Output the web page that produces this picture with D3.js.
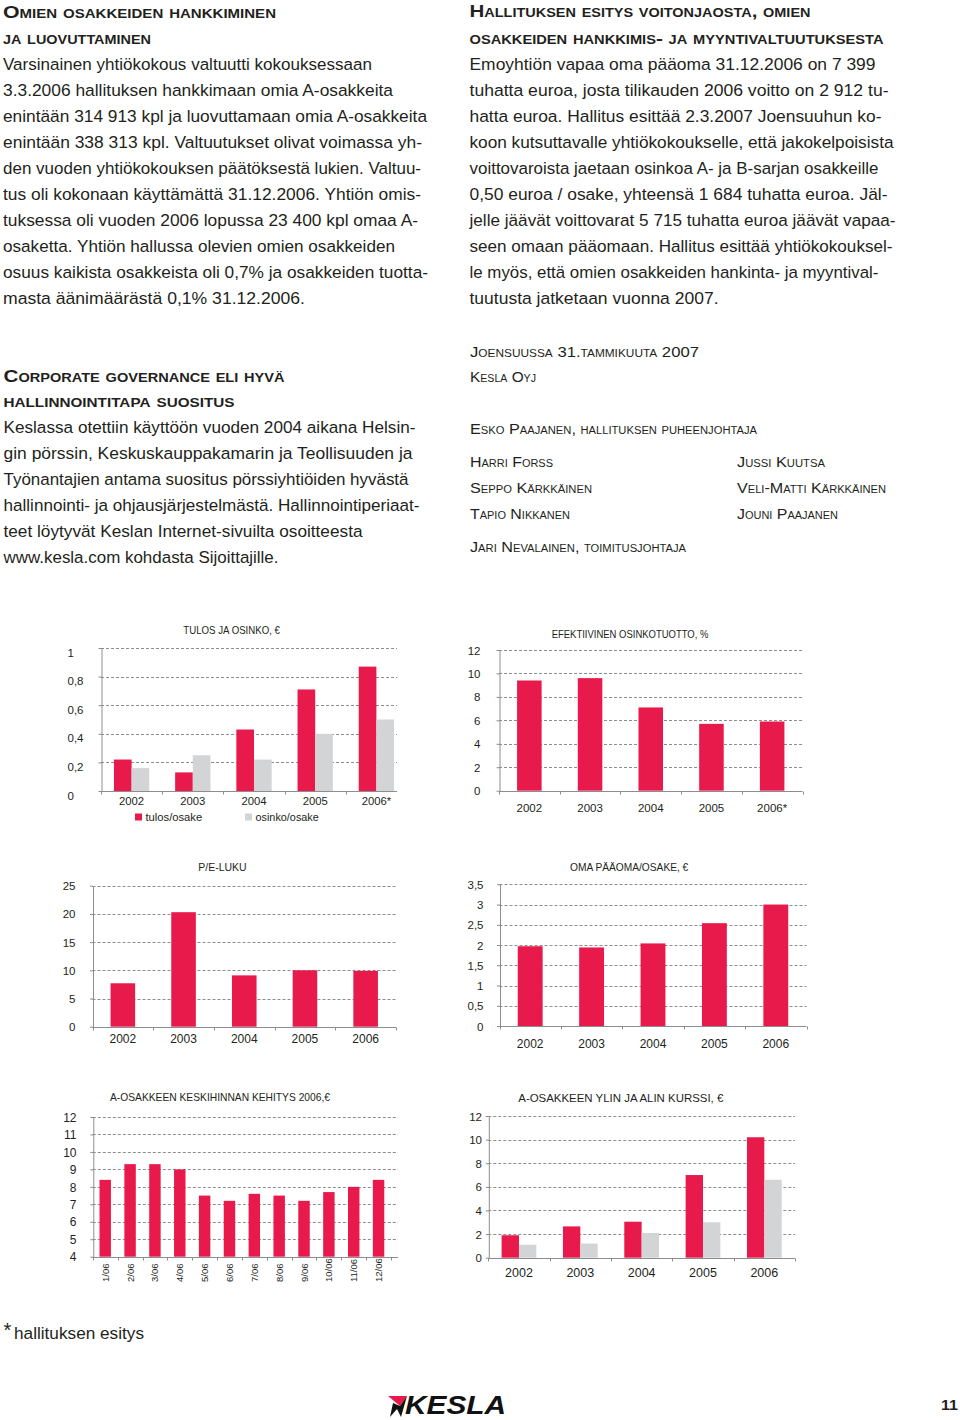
<!DOCTYPE html>
<html><head><meta charset="utf-8">
<script src="https://cdn.jsdelivr.net/npm/d3@7"></script>
<style>
html,body{margin:0;padding:0;background:#fff;}
svg{display:block;font-family:"Liberation Sans",Arial,sans-serif;}
</style></head><body>
<svg id="page" width="960" height="1420"></svg>
<script>
// ---------------- data ----------------
const years = ["2002", "2003", "2004", "2005", "2006"];
const yearsStar = ["2002", "2003", "2004", "2005", "2006*"];
const tulosOsake = [0.22, 0.13, 0.43, 0.71, 0.87];
const osinkoOsake = [0.16, 0.25, 0.22, 0.40, 0.50];
const osinkotuotto = [9.4, 9.6, 7.1, 5.7, 5.9];
const peLuku = [7.7, 20.3, 9.1, 10.0, 9.9];
const omaPaaoma = [1.97, 1.94, 2.04, 2.54, 3.0];
const months = ["1/06", "2/06", "3/06", "4/06", "5/06", "6/06", "7/06", "8/06", "9/06", "10/06", "11/06", "12/06"];
const keskihinta = [8.4, 9.3, 9.3, 9.0, 7.5, 7.2, 7.6, 7.5, 7.2, 7.7, 8.0, 8.4];
const ylin = [1.9, 2.65, 3.05, 7.0, 10.2];
const alin = [1.1, 1.2, 2.1, 3.0, 6.6];

const ticksTulos = [0, 0.2, 0.4, 0.6, 0.8, 1];
const ticksTuotto = [0, 2, 4, 6, 8, 10, 12];
const ticksPE = [0, 5, 10, 15, 20, 25];
const ticksOma = [0, 0.5, 1, 1.5, 2, 2.5, 3, 3.5];
const ticksKeski = [4, 5, 6, 7, 8, 9, 10, 11, 12];
const ticksKurssi = [0, 2, 4, 6, 8, 10, 12];

const seriesNames = ["tulos/osake", "osinko/osake"];
const titles = ["TULOS JA OSINKO, €", "EFEKTIIVINEN OSINKOTUOTTO, %", "P/E-LUKU",
  "OMA PÄÄOMA/OSAKE, €", "A-OSAKKEEN KESKIHINNAN KEHITYS 2006,€", "A-OSAKKEEN YLIN JA ALIN KURSSI, €"];

// ---------------- text content ----------------
const leftHead = ["Omien osakkeiden hankkiminen", "ja luovuttaminen"];
const leftBody = [
  "Varsinainen yhtiökokous valtuutti kokouksessaan",
  "3.3.2006 hallituksen hankkimaan omia A-osakkeita",
  "enintään 314 913 kpl ja luovuttamaan omia A-osakkeita",
  "enintään 338 313 kpl. Valtuutukset olivat voimassa yh-",
  "den vuoden yhtiökokouksen päätöksestä lukien. Valtuu-",
  "tus oli kokonaan käyttämättä 31.12.2006. Yhtiön omis-",
  "tuksessa oli vuoden 2006 lopussa 23 400 kpl omaa A-",
  "osaketta. Yhtiön hallussa olevien omien osakkeiden",
  "osuus kaikista osakkeista oli 0,7% ja osakkeiden tuotta-",
  "masta äänimäärästä 0,1% 31.12.2006."];
const rightHead = ["Hallituksen esitys voitonjaosta, omien", "osakkeiden hankkimis- ja myyntivaltuutuksesta"];
const rightBody = [
  "Emoyhtiön vapaa oma pääoma 31.12.2006 on 7 399",
  "tuhatta euroa, josta tilikauden 2006 voitto on 2 912 tu-",
  "hatta euroa. Hallitus esittää 2.3.2007 Joensuuhun ko-",
  "koon kutsuttavalle yhtiökokoukselle, että jakokelpoisista",
  "voittovaroista jaetaan osinkoa A- ja B-sarjan osakkeille",
  "0,50 euroa / osake, yhteensä 1 684 tuhatta euroa. Jäl-",
  "jelle jäävät voittovarat 5 715 tuhatta euroa jäävät vapaa-",
  "seen omaan pääomaan. Hallitus esittää yhtiökokouksel-",
  "le myös, että omien osakkeiden hankinta- ja myyntival-",
  "tuutusta jatketaan vuonna 2007."];
const cgHead = ["Corporate governance eli hyvä", "hallinnointitapa suositus"];
const cgBody = [
  "Keslassa otettiin käyttöön vuoden 2004 aikana Helsin-",
  "gin pörssin, Keskuskauppakamarin ja Teollisuuden ja",
  "Työnantajien antama suositus pörssiyhtiöiden hyvästä",
  "hallinnointi- ja ohjausjärjestelmästä. Hallinnointiperiaat-",
  "teet löytyvät Keslan Internet-sivuilta osoitteesta",
  "www.kesla.com kohdasta Sijoittajille."];
const signLines = ["Joensuussa 31.tammikuuta 2007", "Kesla Oyj", "Esko Paajanen, hallituksen puheenjohtaja",
  "Harri Forss", "Seppo Kärkkäinen", "Tapio Nikkanen", "Jussi Kuutsa", "Veli-Matti Kärkkäinen", "Jouni Paajanen",
  "Jari Nevalainen, toimitusjohtaja"];

// ---------------- layout (positions, widths) ----------------
const leftBodyW = [369, 390, 424, 419, 418, 418, 415, 392, 425, 302];
const rightBodyW = [406, 419, 412, 424, 409, 418, 426, 423, 409, 249];
const cgBodyW = [412, 409, 405, 416, 359, 275];
const signPos = [[470, 357, 229, 15.5], [470, 382, 66, 14.5], [470, 434, 287, 14.5], [470, 467, 83, 14.5], [470, 493, 122, 14.5],
  [470, 519, 100, 14.5], [737, 467, 88, 14.5], [737, 493, 149, 14.5], [737, 519, 101, 14.5], [470, 552, 216, 14.5]];

const RED = "#e8194b", GREY = "#d3d4d6", INK = "#231f20";
const svg = d3.select("#page");

function line(x, y, str, w, size, opts = {}) {
  const t = svg.append("text").attr("x", x).attr("y", y).text(str)
    .attr("font-size", size).attr("fill", INK);
  if (w) t.attr("textLength", w).attr("lengthAdjust", "spacingAndGlyphs");
  if (opts.bold) t.attr("font-weight", "bold");
  if (opts.sc) t.style("font-variant", "small-caps");
  return t;
}

// left column
line(3, 17.5, leftHead[0], 273, 17, {bold: true, sc: true});
line(3, 43.5, leftHead[1], 148, 17, {bold: true, sc: true});
leftBody.forEach((s, i) => line(3, 69.5 + i * 26, s, leftBodyW[i], 16.3));
// right column
line(469.5, 17, rightHead[0], 341, 17, {bold: true, sc: true});
line(469.5, 43.5, rightHead[1], 414, 17, {bold: true, sc: true});
rightBody.forEach((s, i) => line(469.5, 69.5 + i * 26, s, rightBodyW[i], 16.3));
// corporate governance
line(3.5, 381.7, cgHead[0], 281, 17, {bold: true, sc: true});
line(3.5, 407.3, cgHead[1], 231, 17, {bold: true, sc: true});
cgBody.forEach((s, i) => line(3.5, 433 + i * 26, s, cgBodyW[i], 16.3));
// signatures
signLines.forEach((s, i) => { const p = signPos[i]; line(p[0], p[1], s, p[2], p[3], {sc: true}); });

// footnote
line(3.5, 1337, "*", null, 20);
line(14, 1339, "hallituksen esitys", 130, 16.3);

// page number & logo
line(941, 1410, "11", 17, 15, {bold: true});
svg.append("path").attr("d", "M388,1396 L407,1396 L400,1406 Z").attr("fill", RED);
svg.append("path").attr("d", "M393,1403 L400,1406 L407,1396 L401,1417 L397,1409 L390,1417 Z").attr("fill", "#111");
svg.append("text").attr("x", 405).attr("y", 1414).text("KESLA")
  .attr("font-size", 25).attr("font-weight", "bold").attr("font-style", "italic")
  .attr("fill", "#111").attr("textLength", 101).attr("lengthAdjust", "spacingAndGlyphs")
  .style("font-family", "'Liberation Sans Narrow','Liberation Sans',Arial,sans-serif");

// ---------------- charts ----------------
const fmt = v => String(v).replace(".", ",");

function barChart(c) {
  const g = svg.append("g");
  const x = d3.scaleBand().domain(c.cats).range([c.x0, c.x1]).paddingInner(c.pad).paddingOuter(c.pad / 2);
  const y = d3.scaleLinear().domain([c.ticks[0], c.ticks[c.ticks.length - 1]]).range([c.y0, c.y1]);
  const gridEnd = c.gridEnd || c.x1;
  // dashed grid
  g.selectAll("line.grid").data(c.ticks.slice(1)).join("line")
    .attr("x1", c.x0).attr("x2", gridEnd)
    .attr("y1", d => Math.round(y(d)) + 0.5).attr("y2", d => Math.round(y(d)) + 0.5)
    .attr("stroke", "#8d8d8d").attr("stroke-width", 1).attr("stroke-dasharray", "3,2");
  // bars
  const inner = d3.scaleBand().domain(c.series.map((s, i) => i)).range([0, x.bandwidth()]);
  c.series.forEach((vals, si) => {
    g.selectAll(null).data(vals).join("rect")
      .attr("x", (d, i) => x(c.cats[i]) + inner(si))
      .attr("width", inner.bandwidth())
      .attr("y", d => y(d)).attr("height", d => y(c.ticks[0]) - y(d))
      .attr("fill", c.colors[si]);
  });
  // y axis
  const ya = d3.axisLeft(y).tickValues(c.ticks).tickFormat(fmt).tickSize(3).tickSizeOuter(0)
    .tickPadding(c.x0 - c.labelX - 3);
  const yg = g.append("g").attr("transform", `translate(${c.x0 + 0.5},0)`).call(ya);
  yg.select(".domain").attr("stroke", "#8d8d8d");
  yg.selectAll(".tick line").attr("stroke", "#8d8d8d");
  yg.selectAll(".tick text").attr("font-size", c.yFont || 11.5).attr("fill", INK)
    .attr("font-family", "'Liberation Sans',Arial,sans-serif").attr("dy", c.labelDy || "0.35em");
  if (c.labelStart) yg.selectAll(".tick text").attr("text-anchor", "start").attr("x", c.labelX - c.x0);
  // x axis line and ticks at band boundaries
  const base = Math.round(y(c.ticks[0])) + 0.5;
  g.append("line").attr("x1", c.x0).attr("x2", gridEnd).attr("y1", base).attr("y2", base)
    .attr("stroke", "#8d8d8d");
  const bounds = d3.range(c.cats.length + 1).map(i => c.x0 + i * x.step()).filter(v => v <= gridEnd + 1);
  g.selectAll(null).data(bounds).join("line")
    .attr("x1", d => Math.round(d) + 0.5).attr("x2", d => Math.round(d) + 0.5)
    .attr("y1", base).attr("y2", base + 3).attr("stroke", "#8d8d8d");
  // x labels
  const xl = g.selectAll(null).data(c.labels).join("text").text(d => d)
    .attr("font-size", c.xFont || 11.5).attr("fill", INK);
  if (c.rotate) {
    xl.attr("text-anchor", "start")
      .attr("transform", (d, i) => `translate(${x(c.cats[i]) + x.bandwidth() / 2 + 3.5},${c.xLabelY}) rotate(-90)`);
  } else {
    xl.attr("text-anchor", "middle").attr("x", (d, i) => x(c.cats[i]) + x.bandwidth() / 2).attr("y", c.xLabelY);
  }
  // title
  g.append("text").attr("x", c.title[1]).attr("y", c.title[2]).text(c.title[0])
    .attr("font-size", 10.5).attr("fill", INK)
    .attr("textLength", c.title[3]).attr("lengthAdjust", "spacingAndGlyphs");
  return {x, y, g};
}

// 1. Tulos ja osinko
barChart({cats: years, labels: yearsStar, series: [tulosOsake, osinkoOsake], colors: [RED, GREY],
  x0: 101, x1: 407, gridEnd: 397, pad: 0.423, y0: 791, y1: 648, ticks: ticksTulos,
  labelX: 67, labelStart: true, labelDy: "0.7em", xLabelY: 805, xFont: 11.3,
  title: [titles[0], 183.3, 634, 96.7]});
// legend
seriesNames.forEach((s, i) => {
  const lx = [135, 245][i];
  svg.append("rect").attr("x", lx).attr("y", 813.5).attr("width", 7).attr("height", 7).attr("fill", [RED, GREY][i]);
  svg.append("text").attr("x", lx + 10.5).attr("y", 820.8).text(s).attr("font-size", 11).attr("fill", INK)
    .attr("textLength", [56.7, 63.3][i]).attr("lengthAdjust", "spacingAndGlyphs");
});

// 2. Efektiivinen osinkotuotto
barChart({cats: years, labels: yearsStar, series: [osinkotuotto], colors: [RED],
  x0: 499, x1: 802.5, pad: 0.596, y0: 790.7, y1: 650, ticks: ticksTuotto,
  labelX: 480, xLabelY: 811.7, title: [titles[1], 551.7, 637.7, 156.7]});

// 3. P/E-luku
barChart({cats: years, labels: years, series: [peLuku], colors: [RED],
  x0: 92.5, x1: 396, pad: 0.595, y0: 1026.7, y1: 885.7, ticks: ticksPE,
  labelX: 75, xLabelY: 1042.7, xFont: 12, title: [titles[2], 198.3, 870.7, 48.3]});

// 4. Oma pääoma/osake
barChart({cats: years, labels: years, series: [omaPaaoma], colors: [RED],
  x0: 499.5, x1: 806.5, pad: 0.595, y0: 1026, y1: 884.3, ticks: ticksOma,
  labelX: 483, xLabelY: 1047.7, xFont: 12, title: [titles[3], 570, 871, 118.3]});

// 5. Keskihinnan kehitys
barChart({cats: months, labels: months, series: [keskihinta], colors: [RED],
  x0: 92.8, x1: 391, gridEnd: 398, pad: 0.54, y0: 1256.7, y1: 1117, ticks: ticksKeski,
  labelX: 76, yFont: 12, rotate: true, xLabelY: 1282, xFont: 9.5, title: [titles[4], 110, 1101, 220]});

// 6. Ylin ja alin kurssi
barChart({cats: years, labels: years, series: [ylin, alin], colors: [RED, GREY],
  x0: 488.3, x1: 795, pad: 0.434, y0: 1257.7, y1: 1116, ticks: ticksKurssi,
  labelX: 481.5, xLabelY: 1276.7, xFont: 12.5, title: [titles[5], 518.3, 1101.7, 205]});
</script>
</body></html>
